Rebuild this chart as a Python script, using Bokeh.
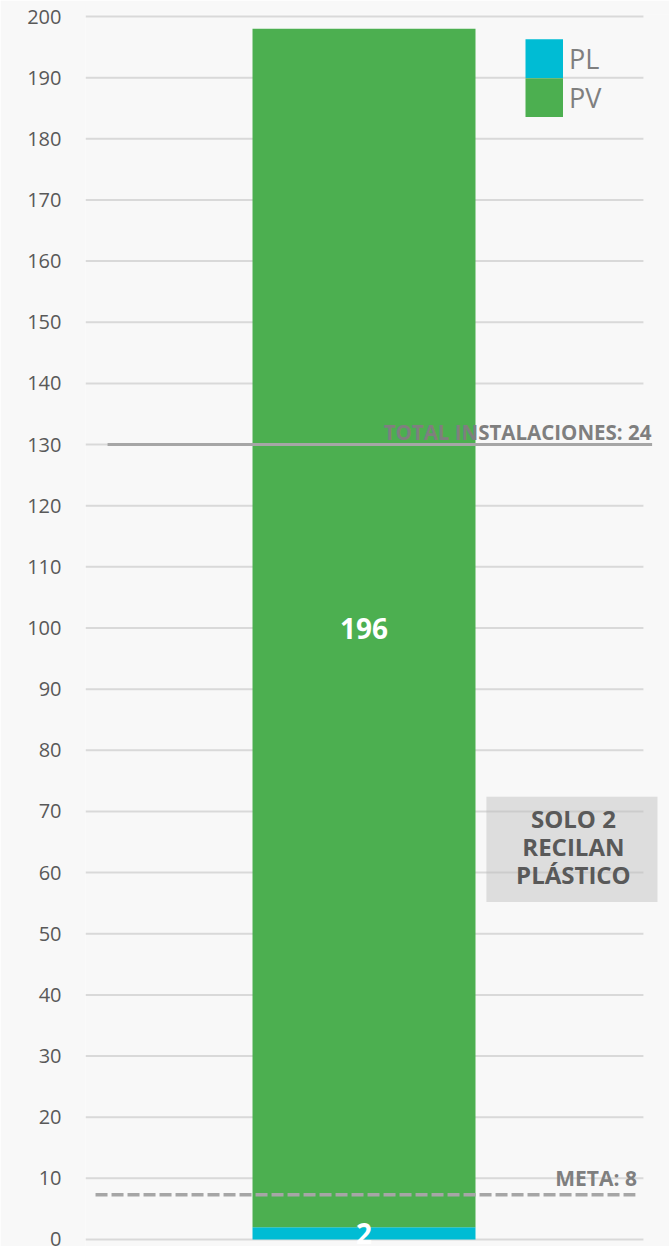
from bokeh.plotting import figure
from bokeh.models import Range1d, FixedTicker, Legend, LegendItem, BoxAnnotation, ColumnDataSource
from bokeh.core.properties import value
from bokeh.embed import file_html
from bokeh.resources import INLINE

# ---- data ----
categories = ["Total"]
pl_values = [2]
pv_values = [196]
series_names = ["PL", "PV"]
series_colors = ["#00BCD4", "#4CAF50"]
y_ticks = list(range(0, 201, 10))
total_label = "TOTAL INSTALACIONES: 24"
total_line_value = 130
meta_label = "META: 8"
meta_line_value = 7.3
note_lines = ["SOLO 2", "RECILAN", "PLÁSTICO"]
note_range = (55.2, 72.4)

FONT = "Open Sans"
BG = "#f8f8f8"

xs = list(range(len(categories)))
pv_bottom = pl_values
pv_top = [a + b for a, b in zip(pl_values, pv_values)]
src = ColumnDataSource(dict(
    x=xs, pl=pl_values, pv=pv_values, pv_bottom=pv_bottom, pv_top=pv_top,
    pl_mid=[v / 2 for v in pl_values],
    pv_mid=[a + b / 2 for a, b in zip(pl_values, pv_values)],
    pl_txt=[str(v) for v in pl_values], pv_txt=[str(v) for v in pv_values],
))

p = figure(width=669, height=1246,
           x_range=Range1d(-1.249, 1.370), y_range=Range1d(-1.145, 200.33),
           x_axis_location=None, output_backend="svg", toolbar_location=None,
           min_border_left=85, min_border_right=0, min_border_top=14, min_border_bottom=0)
p.background_fill_color = BG
p.border_fill_color = BG
p.outline_line_color = None
p.xgrid.visible = False
p.ygrid.visible = False

ax = p.yaxis[0]
ax.ticker = FixedTicker(ticks=y_ticks)
ax.axis_line_color = None
ax.major_tick_line_color = None
ax.minor_tick_line_color = None
ax.major_tick_out = 0
ax.major_tick_in = 0
ax.major_label_standoff = 24
ax.major_label_text_font = FONT
ax.major_label_text_font_size = "20px"
ax.major_label_text_color = "#595959"

# gridlines
p.segment(x0=-1.249, x1=1.253, y0=y_ticks, y1=y_ticks, line_color="#d9d9d9", line_width=2)

# bars
r_pl = p.vbar(x="x", bottom=0, top="pl", width=1, source=src,
              fill_color=series_colors[0], line_color=None)
r_pv = p.vbar(x="x", bottom="pv_bottom", top="pv_top", width=1, source=src,
              fill_color=series_colors[1], line_color=None)

# reference lines
p.segment(x0=[-1.150], x1=[1.292], y0=[total_line_value], y1=[total_line_value],
          line_color="#a6a6a6", line_width=3)
p.segment(x0=[-1.204], x1=[1.217], y0=[meta_line_value], y1=[meta_line_value],
          line_color="#a6a6a6", line_width=3.5, line_dash="12 4")

# value labels
for ycol, tcol in (("pl_mid", "pl_txt"), ("pv_mid", "pv_txt")):
    p.text(x="x", y=ycol, text=tcol, source=src, text_align="center", text_baseline="middle",
           text_font=value(FONT), text_font_style="bold", text_font_size="28px", text_color="white")

p.text(x=[1.289], y=[total_line_value + 2], text=[total_label], text_align="right",
       text_baseline="alphabetic", text_font=value(FONT), text_font_style="bold",
       text_font_size="20.5px", text_color="#7f7f7f")
p.text(x=[1.224], y=[10], text=[meta_label], text_align="right",
       text_baseline="alphabetic", text_font=value(FONT), text_font_style="bold",
       text_font_size="21px", text_color="#7f7f7f")

# note box
box = BoxAnnotation(left=0.549, right=1.316, bottom=note_range[0], top=note_range[1],
                    fill_color="#bcbcbc", fill_alpha=0.45, line_color=None)
p.add_layout(box)
note_mid = 64.27
note_step = 4.51
note_src = ColumnDataSource(dict(
    x=[0.939] * len(note_lines),
    y=[note_mid + (1 - i) * note_step for i in range(len(note_lines))],
    t=note_lines))
p.text(x="x", y="y", text="t", source=note_src,
       text_align="center", text_baseline="middle",
       text_font=value(FONT), text_font_style="bold", text_font_size="24px",
       text_color="#595959", level="overlay")

# legend swatches (full squares, stacked with no gap); single-point lines draw nothing in the plot
sw_pl = p.line(x=[0], y=[0], line_color=series_colors[0], line_width=39.5)
sw_pv = p.line(x=[0], y=[0], line_color=series_colors[1], line_width=39.5)
legend = Legend(items=[LegendItem(label=series_names[0], renderers=[sw_pl]),
                       LegendItem(label=series_names[1], renderers=[sw_pv])],
                location=(440, 1129), orientation="vertical",
                glyph_width=38, glyph_height=39, label_height=39, spacing=0,
                padding=0, margin=0, label_standoff=6,
                label_text_font=FONT, label_text_font_size="27px", label_text_color="#7f7f7f",
                background_fill_alpha=0, border_line_alpha=0)
p.add_layout(legend)

open("out.html", "w").write(file_html(p, INLINE))
